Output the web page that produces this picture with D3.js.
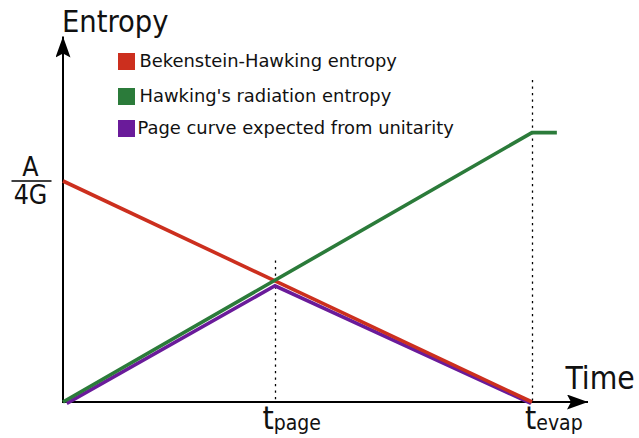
<!DOCTYPE html>
<html>
<head>
<meta charset="utf-8">
<script src="https://cdn.jsdelivr.net/npm/d3@7"></script>
<style>
  html, body { margin: 0; padding: 0; background: #fff; }
  svg { display: block; }
  .big { font-family: 'DejaVu Sans Condensed', 'DejaVu Sans', sans-serif; font-stretch: condensed; fill: #111; }
  .legend text { font-family: 'DejaVu Sans', Verdana, sans-serif; font-size: 17.9px; fill: #111; }
</style>
</head>
<body>
<div id="chart"></div>
<script>
// time in units of t_evap, entropy in units of A/4G
const T_PAGE = 0.452
const T_EVAP = 1.0

const bekenstein = [[0, 1], [T_EVAP, 0]]
const radiation = [[0, 0], [T_EVAP, 1.219], [1.053, 1.219]]
const pageCurve = [[0.008, -0.006], [T_PAGE, 0.526], [0.998, -0.006]]

const series = [
  { name: 'Page curve expected from unitarity', color: '#6a1b9a', values: pageCurve },
  { name: 'Bekenstein-Hawking entropy', color: '#cc2f1e', values: bekenstein },
  { name: "Hawking's radiation entropy", color: '#2b7b3a', values: radiation },
]
const legendOrder = ['Bekenstein-Hawking entropy', "Hawking's radiation entropy", 'Page curve expected from unitarity']

const guides = [
  { t: T_PAGE, top: 0.64, label: 'page', dx: -12.6 },
  { t: T_EVAP, top: 1.457, label: 'evap', dx: -7 },
]

const W = 639, H = 438

const x = d3.scaleLinear().domain([0, 1]).range([63, 532])
const y = d3.scaleLinear().domain([0, 1]).range([402, 181])

const svg = d3.select('#chart').append('svg')
  .attr('width', W)
  .attr('height', H)

const defs = svg.append('defs')
defs.append('marker')
  .attr('id', 'arrow')
  .attr('viewBox', '0 0 21 15')
  .attr('refX', 21)
  .attr('refY', 7.5)
  .attr('markerWidth', 21)
  .attr('markerHeight', 15)
  .attr('markerUnits', 'userSpaceOnUse')
  .attr('orient', 'auto')
  .append('path')
  .attr('d', 'M0,0 L21,7.5 L0,15 L4,7.5 Z')
  .attr('fill', '#000')

// dotted guides
svg.append('g')
  .selectAll('line')
  .data(guides)
  .join('line')
    .attr('x1', d => Math.round(x(d.t)) + 0.5)
    .attr('x2', d => Math.round(x(d.t)) + 0.5)
    .attr('y1', d => y(d.top))
    .attr('y2', y(0))
    .attr('stroke', '#000')
    .attr('stroke-width', 1.3)
    .attr('stroke-dasharray', '2.2,4.3')

// axes
svg.append('line')
  .attr('x1', x(0)).attr('y1', y(0))
  .attr('x2', 588).attr('y2', y(0))
  .attr('stroke', '#000').attr('stroke-width', 2)
  .attr('marker-end', 'url(#arrow)')
svg.append('line')
  .attr('x1', x(0)).attr('y1', y(0) + 1)
  .attr('x2', x(0)).attr('y2', 36.5)
  .attr('stroke', '#000').attr('stroke-width', 2)
  .attr('marker-end', 'url(#arrow)')

// curves
const line = d3.line().x(d => x(d[0])).y(d => y(d[1]))
svg.append('g')
  .selectAll('path')
  .data(series)
  .join('path')
    .attr('d', d => line(d.values))
    .attr('fill', 'none')
    .attr('stroke', d => d.color)
    .attr('stroke-width', 3.6)
    .attr('stroke-linejoin', 'miter')

// axis titles
svg.append('text').attr('class', 'big')
  .attr('x', 62).attr('y', 32)
  .style('font-size', '30.5px')
  .text('Entropy')
svg.append('text').attr('class', 'big')
  .attr('x', 565.5).attr('y', 389)
  .style('font-size', '31.5px')
  .text('Time')

// A/4G label
const frac = svg.append('g').attr('transform', `translate(30.5,${y(1)})`)
frac.append('text').attr('class', 'big')
  .attr('text-anchor', 'middle').attr('y', -5)
  .style('font-size', '26.5px')
  .text('A')
frac.append('line')
  .attr('x1', -19).attr('x2', 21)
  .attr('stroke', '#000').attr('stroke-width', 1.5)
frac.append('text').attr('class', 'big')
  .attr('text-anchor', 'middle').attr('y', 23)
  .style('font-size', '26.5px')
  .text('4G')

// time tick labels
const tl = svg.append('g')
  .selectAll('text')
  .data(guides)
  .join('text')
    .attr('class', 'big')
    .attr('x', d => x(d.t) + d.dx)
    .attr('y', 429)
    .style('font-size', '32px')
tl.append('tspan').text('t')
tl.append('tspan')
  .style('font-size', '21px')
  .attr('dy', 1)
  .text(d => d.label)

// legend
const legend = svg.append('g').attr('class', 'legend')
  .selectAll('g')
  .data(legendOrder.map(n => series.find(s => s.name === n)))
  .join('g')
    .attr('transform', (d, i) => `translate(118,${[53, 88, 120][i]})`)
legend.append('rect')
  .attr('width', 17).attr('height', 17)
  .attr('fill', d => d.color)
legend.append('text')
  .attr('x', (d, i) => i === 2 ? 19.5 : 21.5)
  .attr('y', 14)
  .text(d => d.name)
</script>
</body>
</html>
